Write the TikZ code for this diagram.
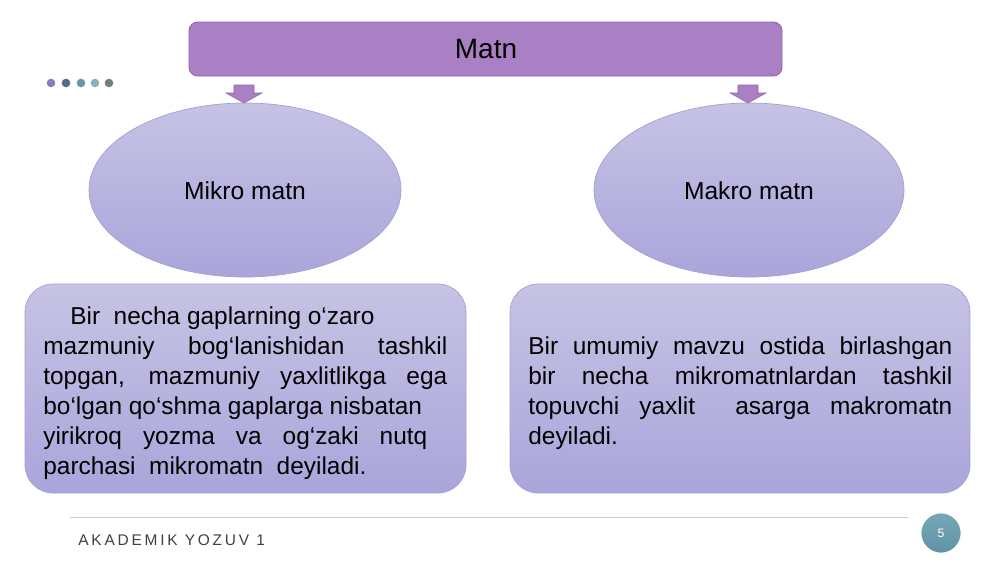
\documentclass[tikz,border=0pt]{standalone}
\usepackage{fontspec}
\setmainfont{Liberation Sans}
\newfontfamily\footfont[LetterSpace=18]{Liberation Sans}

\definecolor{titlefill}{RGB}{170,128,197}
\definecolor{titleline}{RGB}{140,102,170}
\definecolor{lavtop}{RGB}{198,195,229}
\definecolor{lavbot}{RGB}{170,165,218}
\definecolor{lavline}{RGB}{165,158,212}
\definecolor{tealtop}{RGB}{118,168,184}
\definecolor{tealbot}{RGB}{96,146,166}
\definecolor{dotA}{RGB}{138,124,196}
\definecolor{dotB}{RGB}{88,104,143}
\definecolor{dotC}{RGB}{107,149,168}
\definecolor{dotD}{RGB}{134,179,184}
\definecolor{dotE}{RGB}{110,127,122}
\definecolor{footline}{RGB}{200,200,214}
\definecolor{foottext}{RGB}{64,64,64}

\tikzstyle{titlebox}=[draw=titleline,fill=titlefill,rounded corners=5pt,line width=0.5pt]
\tikzstyle{oval}=[draw=lavline,top color=lavtop,bottom color=lavbot,line width=0.4pt]
\tikzstyle{txtbox}=[draw=lavline,top color=lavtop,bottom color=lavbot,rounded corners=16pt,line width=0.4pt]
\tikzstyle{blk}=[draw=titleline,fill=titlefill,line width=0.3pt]
\tikzstyle{body}=[inner sep=0pt,anchor=north west,align=left,font=\fontsize{13.9}{17.07}\selectfont]

\begin{document}
\begin{tikzpicture}[x=0.02cm,y=-0.02cm]
\useasboundingbox (0,0) rectangle (1000,562);
% Title and ovals

   \draw[titlebox] (189,22) rectangle (782,76);
   \node (matn) at (486,49) {\fontsize{15.9}{18}\selectfont Matn};

   \foreach \xx/\cc in {51/dotA,66/dotB,81/dotC,95/dotD,109/dotE}
      \fill[\cc] (\xx,83) circle (4.3);

   \draw[oval] (245,190) ellipse (156 and 87);
   \node (mikro) at (245,191) {\fontsize{14}{17}\selectfont Mikro matn};
   \draw[oval] (749,190) ellipse (155 and 87);
   \node (makro) at (749,191) {\fontsize{14}{17}\selectfont Makro matn};

   \coordinate (ltip) at (244,103);
   \coordinate (rtip) at (748,103);
   \foreach \tp in {ltip,rtip}
      \draw[blk] (\tp) -- ++(18,-10) -- ++(-8,0) -- ++(0,-8) -- ++(-20,0)
      -- ++(0,8) -- ++(-8,0) -- cycle;

% Text boxes
   \draw[txtbox] (25,284) rectangle (466,493);
   \node[body] (mikrotxt) at (43,306) {\hspace*{0.54cm}Bir~ necha gaplarning o‘zaro\\
   \makebox[8.08cm][s]{mazmuniy bog‘lanishidan tashkil}\\
   \makebox[8.08cm][s]{topgan, mazmuniy yaxlitlikga ega}\\
   bo‘lgan qo‘shma gaplarga nisbatan\\
   \makebox[7.68cm][s]{yirikroq yozma va og‘zaki nutq}\\
   parchasi~ mikromatn~ deyiladi.};

   \draw[txtbox] (510,284) rectangle (970,493);
   \node[body] (makrotxt) at (528,336) {\makebox[8.48cm][s]{Bir umumiy mavzu ostida birlashgan}\\
   \makebox[8.48cm][s]{bir necha mikromatnlardan tashkil}\\
   \makebox[8.48cm][s]{topuvchi yaxlit~ asarga makromatn}\\
   deyiladi.};

% Footer
   \draw[footline,line width=0.5pt] (70,517) coordinate(fl) -- (908,517) coordinate(fr);
   \node[anchor=base west,inner sep=0pt,text=foottext] (foot) at (78,545)
      {\footfont\fontsize{8.8}{10}\selectfont AKADEMIK YOZUV 1};
   \draw[draw=white,top color=tealtop,bottom color=tealbot] (941,533) circle (20);
   \node[text=white] (pnum) at (941,533) {\fontsize{7}{8}\selectfont 5};

\end{tikzpicture}
\end{document}
